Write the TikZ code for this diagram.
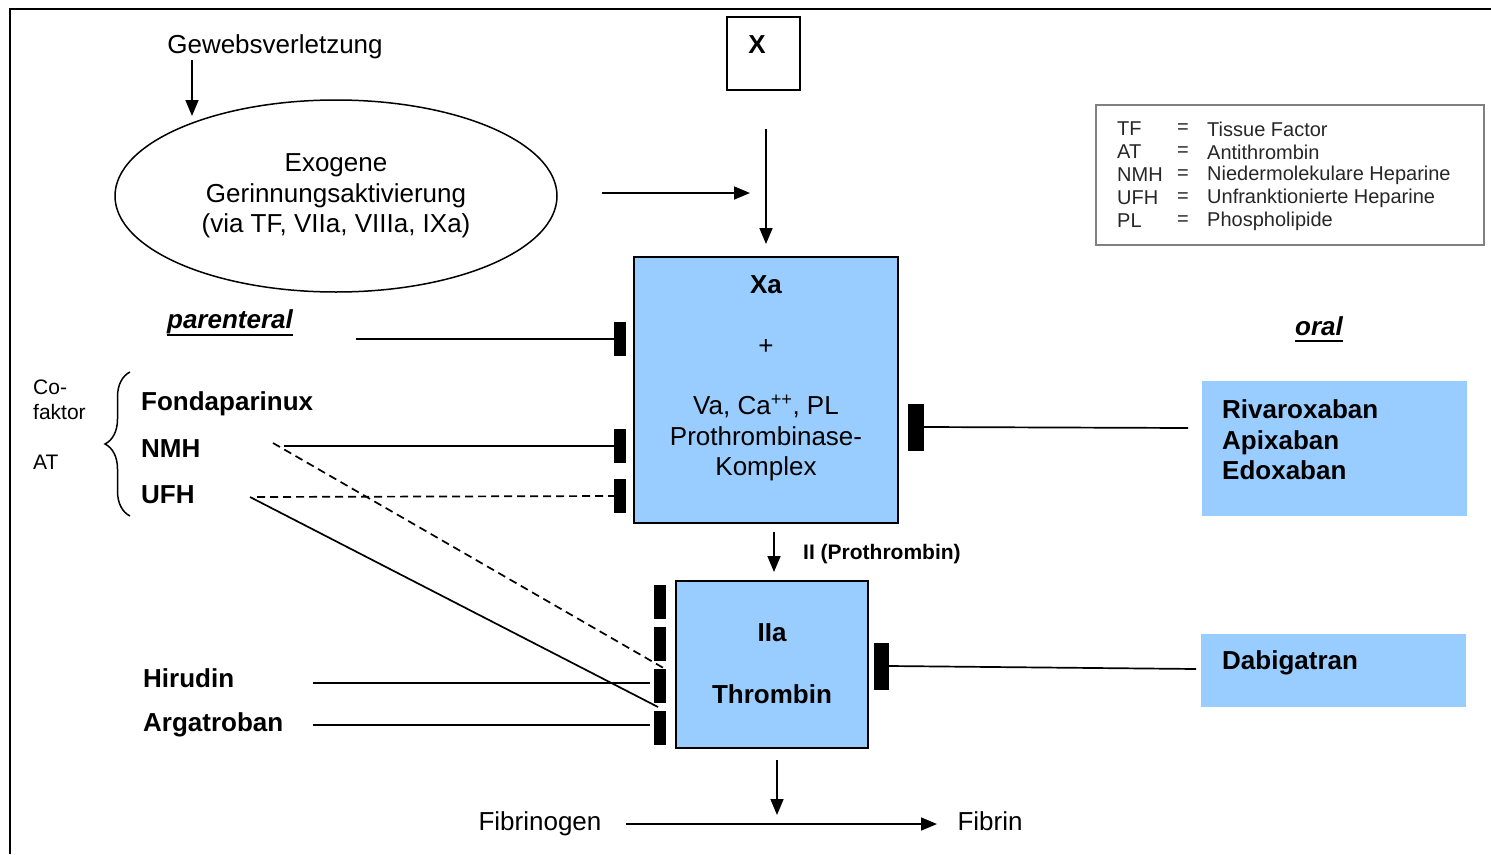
\documentclass[tikz,border=0pt]{standalone}
\usepackage{fontspec}
\setmainfont{Liberation Sans}
\usetikzlibrary{arrows.meta,shapes.geometric,decorations.pathreplacing}
\definecolor{xblue}{HTML}{99CCFF}
\newcommand\fbig{\fontsize{26}{30.5}\selectfont}
\newcommand\fmid{\fontsize{21}{24.5}\selectfont}
\newcommand\fsmall{\fontsize{20}{23}\selectfont}
\tikzset{
  txt/.style={inner sep=0, font=\fbig},
  btxt/.style={inner sep=0, font=\fbig\bfseries},
  arr/.style={line width=1.7pt, -{Triangle[length=16pt,width=13pt]}},
  inh/.style={line width=1.7pt},
  inhd/.style={line width=1.7pt, dash pattern=on 8pt off 5pt},
  bar/.style={fill=black, draw=none, inner sep=0, minimum width=12pt, minimum height=34pt},
  bigbar/.style={fill=black, draw=none, inner sep=0, minimum width=16pt, minimum height=47pt},
  bluebox/.style={fill=xblue, draw=black, line width=1.8pt, inner sep=0},
  drugbox/.style={fill=xblue, draw=none, inner sep=0},
  leg/.style={inner sep=0, anchor=west, font=\fsmall, text=black!85},
}
\begin{document}
\begin{tikzpicture}[x=1pt,y=-1pt]
\useasboundingbox (0,0) rectangle (1491,854);
% frame
\draw[line width=2.2pt] (1491,9) -- (10,9) -- (10,854);

% top
\node[txt] (gew) at (275,47) {Gewebsverletzung};
\node[ellipse, draw, line width=1.5pt, minimum width=442pt, minimum height=192pt, inner sep=0, align=center, font=\fbig] (ell) at (336,196)
  {Exogene\\Gerinnungsaktivierung\\(via TF, VIIa, VIIIa, IXa)};
\node[draw, line width=1.8pt, minimum width=73pt, minimum height=73pt, inner sep=0] (xbox) at (763.5,53.5) {};
\node[btxt] (xlab) at (757,45) {X};

\coordinate (g1) at (192,60);
\coordinate (g2) at (192,116);
\draw[arr] (g1) -- (g2);
\coordinate (e1) at (602,193);
\coordinate (e2) at (750,193);
\draw[arr] (e1) -- (e2);
\coordinate (x1) at (766,129);
\coordinate (x2) at (766,244);
\draw[arr] (x1) -- (x2);

% legend
\node[draw=black!50, line width=1.6pt, minimum width=388pt, minimum height=140pt, inner sep=0] (legbox) at (1290,175) {};
\foreach \a/\b [count=\i] in {TF/Tissue Factor, AT/Antithrombin, NMH/Niedermolekulare Heparine, UFH/Unfranktionierte Heparine, PL/Phospholipide}{
  \node[leg] (la\i) at (1117,{106+23*\i}) {\a};
  \node[inner sep=0, font=\fsmall, text=black!85] (le\i) at (1183,{106+23*\i}) {=};
  \node[leg] (lb\i) at (1207,{106+23*\i}) {\b};
}

% Xa box
\node[bluebox, minimum width=264pt, minimum height=266pt] (xa) at (766,390) {};
\node[btxt] (xat) at (766,285) {Xa};
\node[txt] (plus) at (766,347) {+};
\node[txt, align=center] (xat2) at (766,438) {Va, Ca\textsuperscript{++}, PL\\Prothrombinase-\\Komplex};

% bars on Xa
\node[bar] (b1) at (620,339) {};
\node[bar] (b2) at (620,446) {};
\node[bar] (b3) at (620,496) {};
\node[bigbar] (rb1) at (916,427) {};

% parenteral
\node[btxt, font=\fbig\bfseries\itshape] (par) at (230,322) {parenteral};
\draw[line width=2.4pt] ([yshift=-6pt]par.base west) -- ([yshift=-6pt]par.base east);
\node[btxt, font=\fbig\bfseries\itshape] (oral) at (1319,326) {oral};
\draw[line width=2.4pt] ([yshift=-6pt]oral.base west) -- ([yshift=-6pt]oral.base east);

% cofactor
\node[inner sep=0, anchor=west, font=\fmid, align=left] (cof) at (33,400) {Co-\\faktor};
\node[inner sep=0, anchor=west, font=\fmid] (at) at (33,462) {AT};
\draw[line width=1.5pt, decorate, decoration={brace, amplitude=25pt}] (130,516) -- (130,372);

\node[btxt, anchor=west] (fonda) at (141,404) {Fondaparinux};
\node[btxt, anchor=west] (nmh) at (141,449) {NMH};
\node[btxt, anchor=west] (ufh) at (141,495) {UFH};

\coordinate (p0) at (356,339);
\draw[inh] (p0) -- (b1.west);
\coordinate (n0) at (284,446);
\draw[inh] (n0) -- (b2.west);
\coordinate (u0) at (257,497);
\draw[inhd] (u0) -- (b3.west);

% oral drugs
\node[drugbox, minimum width=265pt, minimum height=135pt] (riva) at (1334.5,448.5) {};
\node[btxt, anchor=west, align=left] (rivat) at (1222,440) {Rivaroxaban\\Apixaban\\Edoxaban};
\coordinate (r0) at (1188,428);
\draw[inh] (rb1.east) -- (r0);

\node[drugbox, minimum width=265pt, minimum height=73pt] (dabi) at (1333.5,670.5) {};
\node[btxt, anchor=west] (dabit) at (1222,663) {Dabigatran};

% prothrombin arrow
\coordinate (pr1) at (774,532);
\coordinate (pr2) at (774,572);
\draw[arr] (pr1) -- (pr2);
\node[inner sep=0, anchor=west, font=\fontsize{21}{24}\selectfont\bfseries] (prot) at (803,554) {II (Prothrombin)};

% IIa box
\node[bluebox, minimum width=192pt, minimum height=167pt] (iia) at (772,664.5) {};
\node[btxt] (iiat) at (772,633) {IIa};
\node[btxt] (thr) at (772,694) {Thrombin};

\node[bar] (c1) at (660,601.5) {};
\node[bar] (c2) at (660,643.5) {};
\node[bar] (c3) at (660,685.5) {};
\node[bar] (c4) at (660,727.5) {};
\node[bigbar, minimum width=15pt] (rb2) at (881.5,666) {};
\coordinate (d0) at (1196,669);
\draw[inh] (rb2.east) -- (d0);

% thrombin inhibitors
\node[btxt, anchor=west] (hir) at (143,678) {Hirudin};
\node[btxt, anchor=west] (arg) at (143,725) {Argatroban};
\coordinate (h0) at (313,683);
\coordinate (h1) at (650,683);
\draw[inh] (h0) -- (h1);
\coordinate (a0) at (313,725);
\coordinate (a1) at (650,725);
\draw[inh] (a0) -- (a1);

\coordinate (nd0) at (273,443);
\coordinate (nd1) at (667,670);
\draw[inhd] (nd0) -- (nd1);
\coordinate (ud0) at (250,497);
\coordinate (ud1) at (658,707);
\draw[inh] (ud0) -- (ud1);

% fibrin
\coordinate (t1) at (777,760);
\coordinate (t2) at (777,815);
\draw[arr] (t1) -- (t2);
\node[txt] (fbg) at (540,824) {Fibrinogen};
\node[txt] (fbn) at (990,821) {Fibrin};
\coordinate (f1) at (626,824);
\coordinate (f2) at (937,824);
\draw[arr] (f1) -- (f2);
\end{tikzpicture}
\end{document}
